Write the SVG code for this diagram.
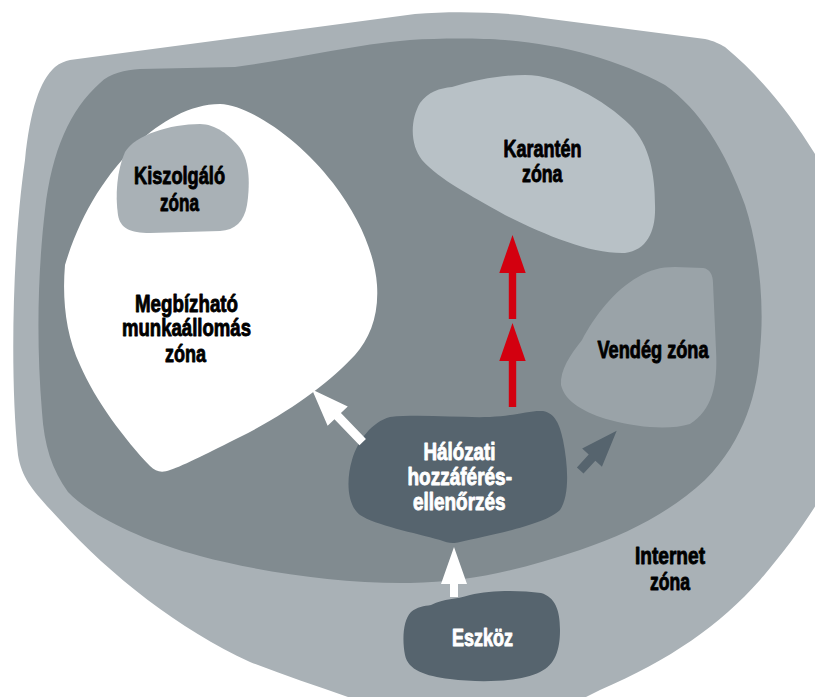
<svg xmlns="http://www.w3.org/2000/svg" width="815" height="697" viewBox="0 0 815 697">
<style>
.lbl{font-family:"Liberation Sans Narrow","Liberation Sans","DejaVu Sans Condensed",sans-serif;font-weight:bold;font-size:24px;fill:#000;stroke:#000;stroke-width:0.9;stroke-linejoin:round}
.wl{fill:#fff;stroke:#fff}
.outer{fill:#a9b1b6}
.inner{fill:#818b90}
.trusted{fill:#ffffff}
.server{fill:#a9b1b6}
.quar{fill:#b8c1c6}
.guest{fill:#9aa3a8}
.dark{fill:#56646e}
</style>
<rect width="815" height="697" fill="#ffffff"/>
<g id="internet-zone">
<path class="outer" d="M 70,60 L 415,14 C 450,11 490,12 520,15 L 705,39 C 714,41 720,44 725,47 C 765,80 800,125 830,180 L 830,480 C 815,510 790,545 760,580 C 720,625 670,660 600,690 L 570,705 L 370,705 C 330,690 290,678 250,662 C 180,630 110,575 60,520 C 35,493 22,480 18,455 C 10,380 12,250 25,160 C 30,110 40,80 55,67 C 60,63 65,61 70,60 Z"/>
<text class="lbl" x="635" y="564" textLength="70" lengthAdjust="spacingAndGlyphs">Internet</text>
<text class="lbl" x="650" y="589.5" textLength="40" lengthAdjust="spacingAndGlyphs">zóna</text>
</g>
<g id="inner-zone">
<path class="inner" d="M 100,83 C 110,73 125,70 140,69 L 235,67 C 290,60 350,45 410,40 C 440,38 480,38 505,40 C 560,44 620,60 665,85 C 700,110 725,150 745,205 C 758,245 765,300 760,350 C 758,390 745,440 705,480 C 670,512 630,533 580,550 C 520,570 470,582 410,583 C 340,584 260,572 200,556 C 140,540 90,515 68,492 C 52,470 44,445 42,412 C 36,340 38,270 45,210 C 52,150 70,110 100,83 Z"/>
</g>
<g id="trusted-zone">
<path class="trusted" d="M 220,104 C 250,105 300,140 333,183 C 360,218 375,255 377,285 C 379,315 370,338 355,355 C 330,382 290,412 240,437 C 210,452 185,465 170,470 C 162,473 156,472 150,466 C 125,440 95,400 80,365 C 66,335 62,300 65,265 C 80,215 105,175 138,143 C 160,122 190,104 220,104 Z"/>
<text class="lbl" x="135" y="311.5" textLength="103" lengthAdjust="spacingAndGlyphs">Megbízható</text>
<text class="lbl" x="122" y="336" textLength="129" lengthAdjust="spacingAndGlyphs">munkaállomás</text>
<text class="lbl" x="165" y="361.5" textLength="41" lengthAdjust="spacingAndGlyphs">zóna</text>
</g>
<g id="server-zone">
<path class="server" d="M 200,124 C 215,124 230,135 240,148 C 250,162 250,185 247,205 C 244,222 235,230 220,231 L 150,233 C 130,233 120,228 118,215 C 115,195 117,170 125,152 C 135,135 170,124 200,124 Z"/>
<text class="lbl" x="134" y="184" textLength="91" lengthAdjust="spacingAndGlyphs">Kiszolgáló</text>
<text class="lbl" x="160" y="210.5" textLength="39" lengthAdjust="spacingAndGlyphs">zóna</text>
</g>
<g id="quarantine-zone">
<path class="quar" d="M 452,87 C 475,80 500,75 525,75 C 560,75 605,100 630,125 C 650,145 655,175 655,205 C 656,230 648,250 625,253 C 590,254 545,235 505,215 C 470,195 440,180 422,160 C 410,145 410,120 420,103 C 428,92 440,88 452,87 Z"/>
<text class="lbl" x="503.5" y="156.5" textLength="78" lengthAdjust="spacingAndGlyphs">Karantén</text>
<text class="lbl" x="522" y="181.5" textLength="40.5" lengthAdjust="spacingAndGlyphs">zóna</text>
</g>
<g id="guest-zone">
<path class="guest" d="M 638,277 C 650,270 660,267 675,267 L 703,268 C 710,269 713,275 713,283 L 716,350 C 718,385 712,410 690,424 C 670,430 640,428 610,420 C 585,413 565,402 561,385 C 560,370 570,355 582,340 C 595,315 615,290 638,277 Z"/>
<text class="lbl" x="597.5" y="358" textLength="111" lengthAdjust="spacingAndGlyphs">Vendég zóna</text>
</g>
<g id="nac">
<path class="dark" d="M 390,417 C 420,414 460,418 490,417 C 515,416 530,410 543,411 C 555,413 560,425 563,440 C 568,465 570,495 560,510 C 545,525 490,535 460,542 C 452,544 448,543 440,540 C 415,533 375,525 360,515 C 347,505 346,480 352,460 C 358,440 372,422 390,417 Z"/>
<text class="lbl wl" x="423.5" y="460" textLength="72" lengthAdjust="spacingAndGlyphs">Hálózati</text>
<text class="lbl wl" x="407.5" y="485" textLength="104.5" lengthAdjust="spacingAndGlyphs">hozzáférés-</text>
<text class="lbl wl" x="413" y="510" textLength="92.5" lengthAdjust="spacingAndGlyphs">ellenőrzés</text>
</g>
<g id="device">
<path class="dark" d="M 431,605 C 445,598 455,600 470,595 C 490,590 520,590 541,593 C 555,597 560,610 560,630 C 560,650 555,665 540,672 C 520,682 480,683 450,679 C 425,676 408,670 405,655 C 402,640 403,620 411,612 C 417,607 424,606 431,605 Z"/>
<text class="lbl wl" x="452" y="646" textLength="61" lengthAdjust="spacingAndGlyphs">Eszköz</text>
</g>
<g id="connectors">
<path fill="#d3000f" transform="translate(512.5,235)" d="M0,0 L13.2,38 L3.7,38 L3.7,84 L-3.7,84 L-3.7,38 L-13.2,38 Z"/>
<path fill="#d3000f" transform="translate(512.5,323)" d="M0,0 L13.2,38 L3.7,38 L3.7,84 L-3.7,84 L-3.7,38 L-13.2,38 Z"/>
<path fill="#ffffff" transform="translate(454,547)" d="M0,0 L13,37 L4,37 L4,50 L-4,50 L-4,37 L-13,37 Z"/>
<path fill="#ffffff" transform="translate(312,389.5) rotate(-44)" d="M0,0 L14,37 L4.5,37 L4.5,73 L-4.5,73 L-4.5,37 L-14,37 Z"/>
<path fill="#56646e" transform="translate(616.7,430.7) rotate(42.5)" d="M0,0 L13.4,36.5 L4.5,36.5 L4.5,54 L-4.5,54 L-4.5,36.5 L-13.4,36.5 Z"/>
</g>
</svg>
